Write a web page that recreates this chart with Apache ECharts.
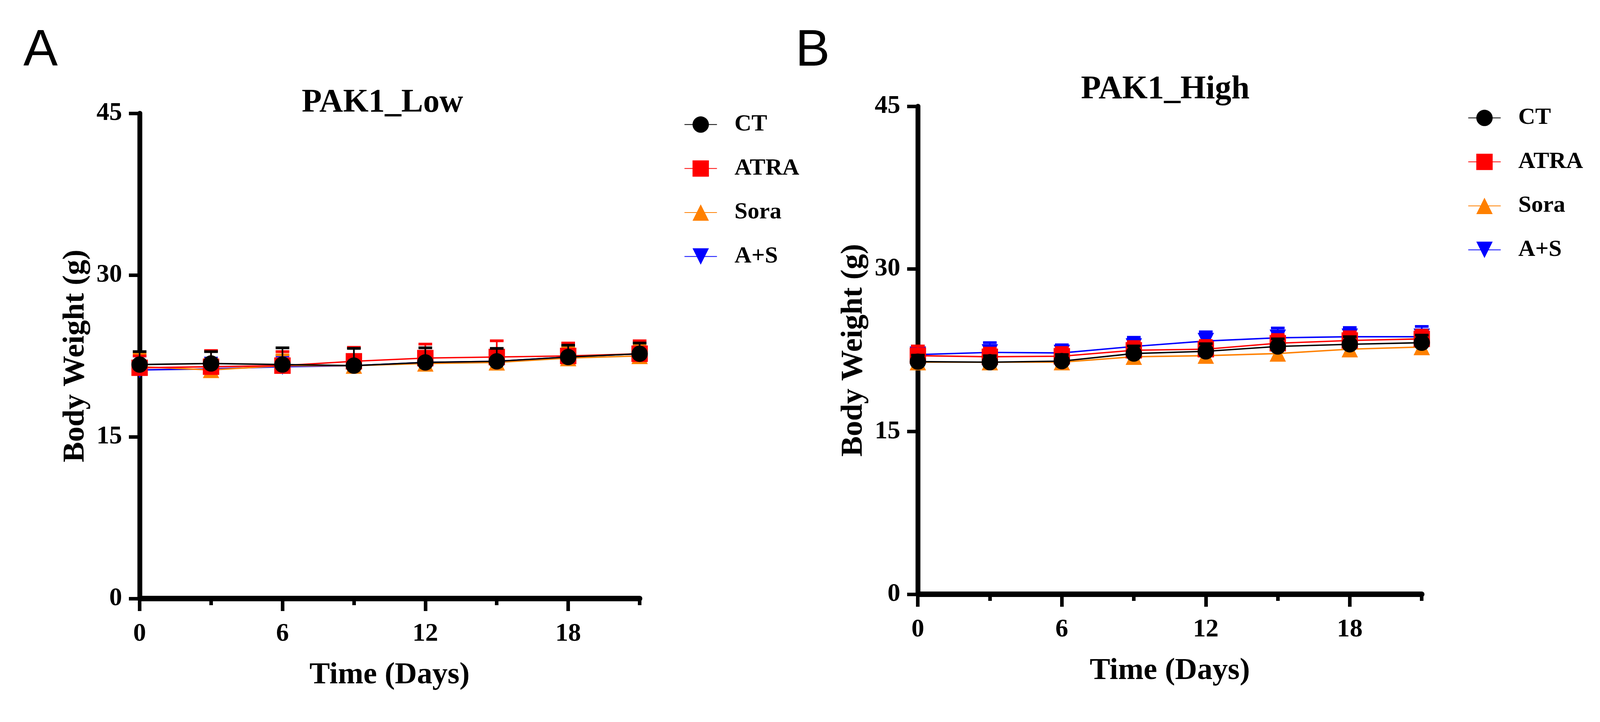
<!DOCTYPE html>
<html lang="en" style="height: 100%">
<head>
  <meta charset="utf-8">
</head>
<body style="height: 100%; margin: 0; background: #fff">
  <div id="container" style="height: 100%"></div>

  <script type="text/javascript" src="https://cdn.jsdelivr.net/npm/echarts@6/dist/echarts.min.js"></script>

  <script type="text/javascript">
    var dom = document.getElementById('container');
    var myChart = echarts.init(dom, null, { renderer: 'canvas' });

    // time points (days)
    const days = [0, 3, 6, 9, 12, 15, 18, 21];
    const groups = ['CT', 'ATRA', 'Sora', 'A+S'];

    // PAK1_Low : mean body weight (g) and SD
    const lowCT = [21.7, 21.8, 21.7, 21.6, 21.9, 22.0, 22.4, 22.7];
    const lowATRA = [21.4, 21.5, 21.6, 22.0, 22.3, 22.4, 22.5, 22.7];
    const lowSora = [21.5, 21.2, 21.6, 21.6, 21.8, 21.9, 22.3, 22.5];
    const lowAS = [21.2, 21.3, 21.5, 21.6, 21.9, 22.0, 22.4, 22.7];
    const lowCTsd = [1.2, 1.1, 1.55, 1.6, 1.35, 1.2, 1.1, 1.0];
    const lowATRAsd = [1.1, 1.5, 1.3, 1.3, 1.3, 1.5, 1.2, 1.2];
    const lowSorasd = [1.2, 1.0, 1.0, 1.0, 1.0, 1.0, 1.0, 1.0];
    const lowASsd = [1.3, 1.0, 1.0, 1.0, 1.0, 1.0, 1.0, 1.0];

    // PAK1_High : mean body weight (g) and SD
    const highCT = [21.45, 21.4, 21.5, 22.2, 22.4, 22.85, 23.05, 23.2];
    const highATRA = [22.0, 21.9, 21.95, 22.5, 22.6, 23.15, 23.4, 23.55];
    const highSora = [21.4, 21.4, 21.4, 21.9, 22.0, 22.2, 22.6, 22.8];
    const highAS = [22.1, 22.3, 22.25, 22.85, 23.35, 23.65, 23.75, 23.75];
    const highCTsd = [0.6, 0.6, 0.6, 0.7, 0.7, 0.7, 0.7, 0.7];
    const highATRAsd = [0.9, 0.8, 0.8, 0.8, 0.8, 0.8, 0.8, 0.8];
    const highSorasd = [0.6, 0.6, 0.6, 0.7, 0.7, 0.7, 0.7, 0.7];
    const highASsd = [0.8, 0.9, 0.75, 0.85, 0.85, 0.9, 0.85, 0.95];

    const yTicks = [0, 15, 30, 45];
    const xMajorTicks = [0, 6, 12, 18];
    const xMinorTicks = [3, 9, 15, 21];

    const colors = { 'CT': '#000000', 'ATRA': '#ff0000', 'Sora': '#ff8000', 'A+S': '#0000ff' };
    const symbols = {
      'CT': 'circle',
      'ATRA': 'rect',
      'Sora': 'triangle',
      'A+S': 'path://M0,0 L10,0 L5,9 Z'
    };

    const SERIF = '"Liberation Serif", "Times New Roman", serif';

    // layout was measured on a 4928 x 1848 picture; stretch it to the real viewport
    const SX = myChart.getWidth() / 4928;
    const SY = myChart.getHeight() / 1848;
    const SF = Math.sqrt(SX * SY);
    const px = (v) => v * SX;
    const py = (v) => v * SY;
    const pf = (v) => v * SF;

    const lineSeries = (name, values, gridIdx, z) => ({
      type: 'line',
      name: name,
      xAxisIndex: gridIdx * 2,
      yAxisIndex: gridIdx,
      data: days.map((d, i) => [d, values[i]]),
      symbol: symbols[name],
      symbolSize: pf(46),
      showAllSymbol: true,
      color: colors[name],
      lineStyle: { width: pf(4), color: colors[name] },
      itemStyle: { color: colors[name] },
      z: z,
      silent: true
    });

    // error bars point upward only (mean -> mean + SD), as in the original figure
    const errSeries = (name, values, sds, gridIdx, z) => ({
      type: 'custom',
      name: name + ' SD',
      xAxisIndex: gridIdx * 2,
      yAxisIndex: gridIdx,
      data: days.map((d, i) => [d, values[i], values[i] + sds[i]]),
      encode: { x: 0, y: [1, 2] },
      z: z,
      silent: true,
      renderItem: (params, api) => {
        const lo = api.coord([api.value(0), api.value(1)]);
        const hi = api.coord([api.value(0), api.value(2)]);
        const w = px(21);
        const c = colors[name];
        return {
          type: 'group',
          children: [
            { type: 'line', shape: { x1: lo[0], y1: lo[1], x2: hi[0], y2: hi[1] }, style: { stroke: c, lineWidth: px(5) } },
            { type: 'line', shape: { x1: hi[0] - w, y1: hi[1], x2: hi[0] + w, y2: hi[1] }, style: { stroke: c, lineWidth: py(7) } }
          ]
        };
      }
    });

    const panelSeries = (gridIdx, sets) => {
      // draw A+S first, CT last (on top)
      const order = ['A+S', 'Sora', 'ATRA', 'CT'];
      const out = [];
      order.forEach((g, k) => {
        out.push(errSeries(g, sets[g][0], sets[g][1], gridIdx, 2 + k * 2));
        out.push(lineSeries(g, sets[g][0], gridIdx, 3 + k * 2));
      });
      return out;
    };

    const xAxisPair = (gridIdx) => [
      {
        type: 'value', gridIndex: gridIdx, position: 'bottom',
        min: 0, max: 21, interval: 3,
        name: 'Time (Days)', nameLocation: 'middle', nameGap: py(158),
        nameTextStyle: { fontFamily: SERIF, fontWeight: 'bold', fontSize: pf(86), color: '#000' },
        axisLine: { show: true, onZero: false, lineStyle: { color: '#000', width: py(14) } },
        axisTick: { show: true, customValues: xMajorTicks, length: py(32), lineStyle: { color: '#000', width: px(11) } },
        axisLabel: { customValues: xMajorTicks, margin: py(58), fontFamily: SERIF, fontWeight: 'bold', fontSize: pf(72), color: '#000' },
        splitLine: { show: false }
      },
      {
        type: 'value', gridIndex: gridIdx, position: 'bottom',
        min: 0, max: 21, interval: 3,
        axisLine: { show: false },
        axisTick: { show: true, customValues: xMinorTicks, length: py(17), lineStyle: { color: '#000', width: px(11) } },
        axisLabel: { show: false },
        splitLine: { show: false }
      }
    ];

    const yAxisOne = (gridIdx) => ({
      type: 'value', gridIndex: gridIdx,
      min: 0, max: 45, interval: 15,
      name: 'Body Weight (g)', nameLocation: 'middle', nameGap: px(150),
      nameTextStyle: { fontFamily: SERIF, fontWeight: 'bold', fontSize: pf(86), color: '#000' },
      axisLine: { show: true, lineStyle: { color: '#000', width: px(15) } },
      axisTick: { show: true, customValues: yTicks, length: px(33), lineStyle: { color: '#000', width: py(9) } },
      axisLabel: { customValues: yTicks, margin: px(54), fontFamily: SERIF, fontWeight: 'bold', fontSize: pf(72), color: '#000' },
      splitLine: { show: false }
    });

    const legendAt = (left, firstCenter) => {
      const h = pf(57.5);
      return {
        orient: 'vertical',
        left: px(left),
        top: py(firstCenter) - h / 2,
        padding: 0,
        itemWidth: px(100),
        itemHeight: h,
        itemGap: py(105) - h,
        data: groups,
        selectedMode: false,
        textStyle: { fontFamily: SERIF, fontWeight: 'bold', fontSize: pf(66), color: '#000', padding: [0, 0, 0, px(48)] }
      };
    };

    const titleText = (text, x, y, size, font) => ({
      type: 'text', x: px(x), y: py(y), silent: true,
      style: { text: text, font: font.replace('SIZE', pf(size) + 'px'), fill: '#000', align: 'center', verticalAlign: 'middle' }
    });

    const option = {
      backgroundColor: '#ffffff',
      animation: false,
      grid: [
        { left: px(430), top: py(290), width: px(1540), height: py(1242), containLabel: false, outerBoundsMode: 'none' },
        { left: px(2827), top: py(272), width: px(1552), height: py(1249), containLabel: false, outerBoundsMode: 'none' }
      ],
      xAxis: [].concat(xAxisPair(0), xAxisPair(1)),
      yAxis: [yAxisOne(0), yAxisOne(1)],
      legend: [legendAt(2107, 315), legendAt(4521, 298)],
      graphic: [
        titleText('A', 125, 132, 145, 'SIZE "Liberation Sans", Arial, sans-serif'),
        titleText('B', 2503, 132, 145, 'SIZE "Liberation Sans", Arial, sans-serif'),
        titleText('PAK1_Low', 1178, 264, 92, 'bold SIZE ' + SERIF),
        titleText('PAK1_High', 3589, 230, 92, 'bold SIZE ' + SERIF)
      ],
      series: [].concat(
        panelSeries(0, {
          'CT': [lowCT, lowCTsd], 'ATRA': [lowATRA, lowATRAsd],
          'Sora': [lowSora, lowSorasd], 'A+S': [lowAS, lowASsd]
        }),
        panelSeries(1, {
          'CT': [highCT, highCTsd], 'ATRA': [highATRA, highATRAsd],
          'Sora': [highSora, highSorasd], 'A+S': [highAS, highASsd]
        })
      )
    };

    myChart.setOption(option);
    window.addEventListener('resize', myChart.resize);
  </script>
</body>
</html>
